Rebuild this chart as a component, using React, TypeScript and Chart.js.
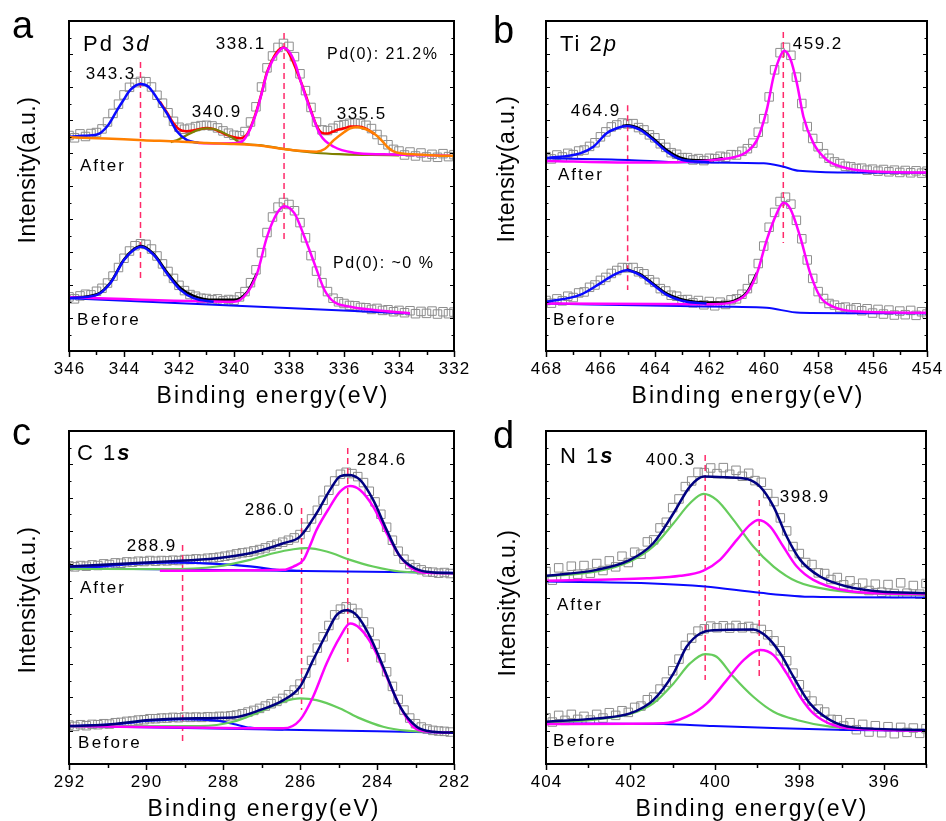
import React, { useEffect, useRef } from 'react';
import { Chart, registerables } from 'chart.js';
Chart.register(...registerables);

type Pt = [number, number];
const FONT = '"Liberation Sans", Arial, Helvetica, sans-serif';

const BLUE = '#0a0aff';
const MAGENTA = '#ff00ff';
const ORANGE = '#ff8000';
const OLIVE = '#7f8000';
const RED = '#ff0000';
const BLACK = '#000000';
const NAVY = '#000080';
const GREEN = '#66cc5c';
const DASH = '#ff2a6a';
const SQUARE = '#8d8d8d';

// ---------------- Panel a : Pd 3d ----------------
const A_TICKS = [346, 344, 342, 340, 338, 336, 334, 332];
const A_RAW_START = 346;
const A_RAW_STEP = 0.2;
const A_AFTER_RAW = [65.3, 64.6, 65.8, 65.0, 65.9, 66.2, 67.3, 69.4, 72.0, 74.8, 77.6, 79.9, 81.3, 81.7, 81.6, 80.0, 77.5, 75.1, 72.2, 69.6, 67.8, 67.2, 67.5, 68.0, 68.3, 68.4, 68.2, 67.6, 66.7, 66.0, 65.4, 65.2, 66.5, 69.4, 74.0, 80.0, 85.8, 89.4, 92.0, 93.2, 92.3, 89.2, 84.0, 78.9, 73.8, 69.4, 67.0, 66.8, 67.5, 68.3, 68.6, 69.0, 69.1, 68.9, 68.4, 67.4, 65.6, 63.9, 62.5, 61.1, 60.6, 59.4, 60.3, 59.1, 60.0, 58.8, 59.6, 58.7, 59.8, 58.9, 59.5];
const A_BEFORE_RAW = [16.4, 15.8, 16.7, 17.2, 17.0, 18.1, 19.0, 20.6, 22.7, 25.3, 28.1, 30.3, 31.9, 32.5, 32.3, 30.9, 28.8, 26.4, 24.1, 22.0, 19.9, 18.3, 17.1, 16.6, 16.0, 15.9, 15.5, 15.8, 15.2, 15.6, 15.4, 16.4, 18.0, 20.7, 24.6, 29.8, 35.9, 40.6, 43.6, 45.0, 44.4, 42.5, 38.9, 34.3, 28.9, 24.2, 20.7, 18.0, 16.0, 14.9, 14.4, 13.8, 13.7, 13.2, 13.1, 12.6, 12.9, 12.3, 12.5, 11.9, 12.3, 11.6, 12.2, 11.3, 12.0, 11.4, 12.1, 11.2, 11.9, 11.3, 11.8];
const A_AFTER_ORANGE: Pt[] = [[346, 64.8], [345, 64.5], [344, 64.2], [343.3, 63.9], [342, 63.5], [341, 63.0], [340, 62.7], [339, 62.2], [338.2, 61.2], [337.5, 60.6], [337.0, 60.4], [336.7, 61.2], [336.37, 63.9], [336.0, 66.3], [335.77, 67.5], [335.5, 67.8], [335.2, 67.2], [334.92, 66.0], [334.65, 64.0], [334.43, 61.9], [334.2, 60.5], [333.95, 59.9], [333.5, 59.6], [333, 59.4], [332.5, 59.2], [332, 59.1]];
const A_AFTER_BLUE: Pt[] = [[346, 64.9], [345.5, 65.2], [344.98, 65.6], [344.6, 68.2], [344.25, 73.0], [344.0, 76.3], [343.77, 79.1], [343.4, 80.9], [343.1, 80.0], [342.92, 78.1], [342.7, 75.3], [342.44, 72.0], [342.07, 66.5], [341.71, 63.9], [341.29, 63.1]];
const A_AFTER_OLIVE: Pt[] = [[342.3, 63.3], [342.0, 64.2], [341.6, 65.9], [341.3, 67.0], [341.0, 67.5], [340.7, 67.2], [340.3, 65.8], [340.0, 64.3], [339.77, 63.1], [339.0, 62.3], [338.0, 61.0], [337.0, 60.0], [336.0, 59.6], [335.0, 59.4], [334.0, 59.3]];
const A_AFTER_MAGENTA: Pt[] = [[341.3, 63.0], [340.5, 62.9], [339.9, 63.0], [339.65, 63.9], [339.4, 67.5], [339.16, 73.0], [338.98, 78.5], [338.8, 84.2], [338.6, 88.0], [338.44, 90.0], [338.2, 91.9], [337.95, 90.2], [337.75, 86.5], [337.59, 82.1], [337.22, 73.0], [336.86, 65.5], [336.37, 61.9], [335.65, 60.1], [334.56, 59.6], [332.13, 59.2]];
const A_AFTER_RED: Pt[] = [[342.7, 75.6], [342.44, 72.3], [342.2, 69.0], [342.0, 67.2], [341.75, 66.6], [341.5, 66.8], [341.25, 67.3], [341.0, 67.6], [340.75, 67.3], [340.5, 66.4], [340.25, 65.4], [340.0, 64.8], [339.75, 64.5], [339.5, 66.0], [339.25, 71.0], [339.0, 78.0], [338.8, 84.5], [338.2, 92.0], [337.6, 82.3], [337.2, 72.8], [337.0, 68.3], [336.8, 66.1], [336.6, 65.9], [336.4, 66.5], [336.2, 67.1], [336.0, 67.5], [335.75, 68.0], [335.5, 68.0], [335.2, 67.4], [334.9, 65.8]];
const A_BEFORE_BASE: Pt[] = [[346, 16.0], [333.6, 11.4]];
const A_BEFORE_BLACK: Pt[] = [[346, 16.1], [344.98, 17.2], [344.5, 20.7], [344.0, 27.7], [343.65, 30.8], [343.38, 31.8], [342.92, 29.4], [342.44, 23.9], [341.95, 19.1], [341.47, 16.7], [340.74, 15.5], [340.0, 15.5], [339.53, 17.8], [339.16, 23.6]];
const A_BEFORE_BLUE: Pt[] = [[346, 16.0], [344.98, 17.0], [344.5, 20.5], [344.0, 27.6], [343.65, 30.6], [343.38, 31.6], [342.92, 29.1], [342.44, 23.5], [341.95, 18.5], [341.47, 16.0], [340.74, 14.9]];
const A_BEFORE_MAGENTA: Pt[] = [[346, 16.3], [340, 14.9], [339.53, 17.5], [339.16, 23.5], [338.8, 34.6], [338.44, 41.7], [338.17, 43.9], [337.8, 41.7], [337.44, 34.6], [337.08, 26.6], [336.71, 18.5], [336.37, 14.9], [335.77, 13.4], [334.92, 12.4], [333.6, 11.4]];
const A_DASH_X = [343.4, 338.18];
const A_DASH_TOP = [87.6, 96.4];
const A_DASH_BOTTOM = [21.5, 32.7];

// ---------------- Panel b : Ti 2p ----------------
const B_TICKS = [468, 466, 464, 462, 460, 458, 456, 454];
const B_RAW_START = 468;
const B_RAW_STEP = 0.2;
const B_AFTER_RAW = [58.9, 58.2, 59.4, 58.8, 59.9, 59.5, 60.6, 60.9, 62.0, 63.1, 64.9, 66.4, 67.9, 68.5, 69.1, 68.8, 68.9, 67.7, 67.0, 65.5, 64.6, 62.8, 61.7, 60.1, 59.6, 58.6, 58.6, 57.9, 58.3, 57.7, 58.4, 58.3, 59.0, 58.7, 59.5, 59.4, 60.5, 61.3, 63.0, 66.3, 70.4, 77.0, 85.2, 90.4, 92.0, 89.6, 83.0, 75.0, 68.0, 64.4, 61.9, 59.8, 58.4, 57.3, 56.8, 56.0, 55.8, 55.3, 55.4, 54.8, 55.1, 54.5, 55.0, 54.3, 54.8, 54.1, 54.7, 54.0, 54.6, 53.9, 54.5];
const B_BEFORE_RAW = [15.3, 14.5, 15.8, 15.2, 16.6, 16.2, 17.6, 17.9, 19.3, 20.0, 21.4, 22.3, 23.5, 24.4, 25.3, 25.2, 25.3, 24.0, 23.4, 21.6, 20.8, 18.9, 18.2, 16.9, 16.6, 15.5, 15.6, 14.6, 15.3, 14.0, 15.0, 13.7, 14.8, 14.1, 15.5, 15.8, 17.2, 18.9, 21.8, 26.5, 31.8, 37.5, 42.0, 45.3, 46.6, 44.5, 39.6, 34.0, 27.6, 22.0, 18.0, 15.9, 14.4, 13.9, 13.1, 13.3, 12.6, 13.1, 12.2, 12.8, 11.5, 12.6, 11.2, 12.4, 10.9, 12.1, 11.0, 12.3, 10.8, 11.9, 11.2];
const B_AFTER_BASE: Pt[] = [[468, 58.4], [465, 57.9], [463, 57.2], [460, 56.9], [459.3, 55.9], [458.7, 54.6], [457, 54.1], [454, 54.0]];
const B_AFTER_BLUE: Pt[] = [[468, 58.4], [466.75, 59.9], [466.26, 61.9], [465.77, 66.0], [465.4, 67.5], [465.03, 68.2], [464.54, 67.0], [464.05, 63.9], [463.56, 60.4], [463.07, 58.1], [462.46, 57.4], [462.0, 57.2]];
const B_AFTER_BLACK: Pt[] = [[465.2, 68.2], [465.03, 68.4], [464.54, 67.3], [464.05, 64.3], [463.56, 60.9], [463.07, 58.6], [462.46, 57.8], [462.0, 57.8], [461.5, 58.4]];
const B_AFTER_MAGENTA: Pt[] = [[468, 57.6], [465, 57.1], [463, 57.3], [461.85, 57.9], [461.11, 58.7], [460.62, 60.4], [460.25, 63.9], [459.89, 73.0], [459.64, 83.1], [459.4, 89.2], [459.25, 91.0], [459.03, 88.7], [458.78, 81.1], [458.54, 71.0], [458.17, 62.9], [457.68, 57.9], [456.94, 55.4], [455.72, 54.3], [454, 54.1]];
const B_BEFORE_BASE: Pt[] = [[468, 14.4], [463.07, 13.6], [461.11, 13.4], [459.89, 13.1], [458.66, 11.6], [454, 11.4]];
const B_BEFORE_BLUE: Pt[] = [[468, 14.9], [466.75, 17.0], [466.01, 20.5], [465.52, 23.0], [465.03, 24.5], [464.54, 23.0], [464.05, 20.0], [463.56, 17.0], [462.83, 14.9], [462.1, 14.4]];
const B_BEFORE_BLACK: Pt[] = [[465.03, 24.7], [464.54, 23.3], [464.05, 20.3], [463.56, 17.4], [462.83, 15.3], [462.1, 14.7], [461.5, 14.7], [461.11, 15.2], [460.62, 17.8], [460.25, 23.7]];
const B_BEFORE_MAGENTA: Pt[] = [[468, 14.4], [461.85, 14.2], [461.11, 14.9], [460.62, 17.5], [460.25, 23.5], [459.89, 33.6], [459.52, 41.7], [459.28, 44.9], [459.03, 43.2], [458.66, 34.6], [458.29, 23.5], [457.93, 16.5], [457.44, 13.4], [456.33, 11.9], [454, 11.6]];
const B_DASH_X = [465.0, 459.28];
const B_DASH_TOP = [74.5, 96.7];
const B_DASH_BOTTOM = [18.5, 32.7];

// ---------------- Panel c : C 1s ----------------
const C_TICKS = [292, 290, 288, 286, 284, 282];
const C_RAW_START = 292;
const C_RAW_STEP = 0.15;
const C_AFTER_RAW = [59.5, 59.2, 59.6, 59.4, 59.8, 59.6, 60.1, 59.9, 60.4, 60.3, 60.7, 60.6, 60.9, 60.8, 61.1, 60.9, 61.1, 61.0, 61.2, 61.1, 61.4, 61.4, 61.6, 61.5, 61.8, 61.9, 62.1, 62.4, 62.7, 63.1, 63.4, 63.6, 64.0, 64.4, 64.9, 65.5, 66.0, 66.6, 67.2, 67.9, 68.9, 71.1, 73.6, 76.2, 79.2, 82.2, 85.0, 87.0, 87.6, 87.2, 86.3, 84.5, 81.9, 78.7, 75.0, 71.1, 67.2, 63.9, 61.5, 59.9, 58.9, 58.3, 57.7, 57.6, 57.3, 57.5, 57.2];
const C_BEFORE_RAW = [11.7, 11.3, 11.8, 11.5, 11.9, 11.8, 12.1, 12.0, 12.4, 12.5, 12.8, 12.9, 13.2, 13.3, 13.6, 13.6, 13.8, 13.8, 14.0, 13.9, 14.1, 14.0, 14.1, 14.0, 14.2, 14.1, 14.3, 14.3, 14.5, 14.7, 15.1, 15.6, 16.1, 16.7, 17.4, 18.1, 18.8, 19.7, 20.8, 22.2, 24.0, 27.3, 31.1, 34.8, 38.2, 41.6, 44.8, 46.5, 47.2, 46.7, 45.3, 42.7, 39.6, 36.0, 31.9, 27.7, 23.3, 19.4, 16.2, 13.8, 12.1, 11.1, 10.5, 10.1, 9.9, 9.8, 9.6];
const C_AFTER_BASE: Pt[] = [[292, 58.8], [282, 57.4]];
const C_AFTER_BLUE: Pt[] = [[292, 58.8], [291.19, 59.3], [290.33, 60.1], [289.46, 60.5], [289.0, 60.5], [288.6, 60.3], [287.73, 59.8], [287.12, 59.1], [286.6, 58.3], [286.0, 58.0]];
const C_AFTER_GREEN: Pt[] = [[292, 58.6], [289.46, 58.5], [288.16, 59.3], [287.3, 61.3], [286.69, 63.3], [286.17, 64.5], [285.83, 64.8], [285.31, 63.8], [284.7, 61.3], [284.1, 59.3], [283.4, 57.8], [282, 57.3]];
const C_AFTER_MAGENTA: Pt[] = [[289.64, 58.0], [286.43, 58.3], [286.17, 59.3], [285.91, 61.3], [285.75, 65.3], [285.57, 70.3], [285.22, 77.3], [284.96, 81.8], [284.7, 83.5], [284.44, 82.3], [284.1, 77.3], [283.75, 69.3], [283.4, 62.3], [283.06, 58.5], [282.71, 57.4], [282, 57.3]];
const C_AFTER_NAVY: Pt[] = [[292, 59.3], [290.5, 60.2], [289.46, 60.8], [288.16, 61.8], [287.3, 63.3], [286.43, 66.3], [286.0, 68.3], [285.57, 75.3], [285.22, 82.3], [284.96, 86.4], [284.74, 86.8], [284.44, 85.3], [284.1, 79.3], [283.75, 70.3], [283.4, 62.3], [282.97, 58.5], [282.54, 57.5], [282, 57.3]];
const C_BEFORE_BASE: Pt[] = [[292, 11.4], [286, 10.2], [282, 9.4]];
const C_BEFORE_BLUE: Pt[] = [[292, 11.4], [290.76, 12.0], [289.9, 13.0], [289.03, 13.5], [288.16, 13.0], [287.73, 12.0], [287.3, 10.9], [286.43, 10.4]];
const C_BEFORE_GREEN: Pt[] = [[292, 11.3], [288.6, 11.4], [287.73, 12.7], [287.04, 15.7], [286.43, 18.7], [286.0, 19.7], [285.57, 19.2], [284.96, 16.7], [284.44, 13.7], [283.84, 11.2], [283.23, 10.0], [282, 9.4]];
const C_BEFORE_MAGENTA: Pt[] = [[292, 11.4], [286.43, 10.7], [286.0, 13.2], [285.66, 20.2], [285.31, 30.2], [284.96, 38.2], [284.7, 42.2], [284.44, 40.7], [284.1, 35.2], [283.75, 26.2], [283.4, 17.2], [283.06, 11.2], [282.63, 9.7], [282, 9.4]];
const C_BEFORE_NAVY: Pt[] = [[292, 11.4], [291, 11.8], [289.9, 13.2], [289.03, 13.7], [287.73, 14.0], [287.04, 16.2], [286.43, 19.2], [286.0, 23.2], [285.66, 31.2], [285.31, 39.2], [285.05, 44.7], [284.79, 46.2], [284.53, 44.7], [284.18, 38.2], [283.84, 29.2], [283.4, 17.2], [282.97, 11.2], [282.54, 9.7], [282, 9.4]];
const C_DASH_X = [289.05, 285.96, 284.76];
const C_DASH_TOP = [65.8, 76.9, 94.9];
const C_DASH_BOTTOM = [6.3, 16.2, 30.6];

// ---------------- Panel d : N 1s ----------------
const D_TICKS = [404, 402, 400, 398, 396];
const D_RAW_START = 404;
const D_RAW_STEP = 0.15;
const D_AFTER_RAW = [57.8, 55.2, 58.9, 56.3, 59.4, 57.0, 59.6, 57.3, 60.2, 58.1, 61.0, 59.2, 62.4, 60.5, 63.6, 63.0, 66.7, 67.3, 70.9, 72.6, 77.0, 79.6, 83.3, 85.0, 87.6, 87.5, 88.9, 87.2, 89.0, 87.0, 88.2, 86.4, 87.3, 85.1, 84.6, 81.2, 78.8, 73.9, 70.0, 65.3, 63.2, 60.5, 59.9, 57.4, 57.2, 55.4, 56.0, 53.8, 55.0, 52.9, 54.3, 52.1, 54.0, 51.6, 53.9, 51.2, 54.4, 51.3, 53.6, 51.0, 54.2];
const D_BEFORE_RAW = [13.9, 12.6, 14.6, 13.1, 14.9, 13.4, 14.3, 13.2, 14.9, 13.8, 15.4, 14.6, 16.0, 15.5, 17.0, 17.4, 19.3, 20.1, 22.5, 24.6, 28.0, 31.5, 35.6, 37.8, 39.9, 40.6, 41.4, 40.9, 41.5, 40.8, 41.6, 40.9, 41.3, 40.7, 40.4, 38.8, 37.0, 34.0, 31.0, 27.3, 23.8, 20.6, 18.9, 16.5, 15.6, 13.4, 13.3, 11.4, 12.4, 10.3, 11.9, 9.6, 11.5, 9.4, 11.2, 9.1, 11.0, 9.5, 10.8, 9.2, 10.6];
const D_AFTER_BASE: Pt[] = [[404, 54.8], [401.61, 54.3], [400.23, 53.3], [398.93, 51.4], [397.67, 50.2], [395, 50.0]];
const D_AFTER_GREEN: Pt[] = [[404, 56.3], [402.8, 57.8], [402.01, 60.8], [401.46, 65.3], [400.98, 72.3], [400.59, 78.3], [400.27, 81.1], [399.96, 79.3], [399.56, 73.3], [399.09, 65.3], [398.61, 59.3], [398.06, 54.8], [397.27, 52.3], [396.09, 51.1], [395, 50.8]];
const D_AFTER_MAGENTA: Pt[] = [[404, 55.0], [401.61, 55.8], [400.82, 56.5], [400.27, 58.1], [399.88, 61.3], [399.48, 67.3], [399.17, 71.8], [398.97, 73.3], [398.69, 71.3], [398.38, 65.3], [398.06, 59.3], [397.67, 55.3], [396.87, 52.0], [395.69, 51.1], [395, 51.0]];
const D_AFTER_NAVY: Pt[] = [[404, 56.5], [402.8, 58.3], [402.01, 61.3], [401.46, 66.3], [400.98, 75.3], [400.59, 83.3], [400.26, 86.3], [399.72, 86.1], [399.24, 85.6], [398.93, 83.3], [398.61, 77.3], [398.3, 68.3], [397.98, 61.3], [397.51, 56.3], [396.87, 53.3], [396.09, 51.8], [395, 51.3]];
const D_BEFORE_BASE: Pt[] = [[404, 12.2], [401.22, 12.0], [400.04, 11.4], [398.45, 10.7], [396.87, 10.2], [395, 10.0]];
const D_BEFORE_GREEN: Pt[] = [[404, 12.4], [402.8, 13.4], [402.01, 15.0], [401.46, 18.2], [400.98, 24.2], [400.59, 30.2], [400.23, 33.0], [399.96, 32.2], [399.56, 26.2], [399.09, 20.2], [398.61, 15.7], [398.06, 13.2], [397.27, 11.2], [396.09, 10.4], [395, 10.2]];
const D_BEFORE_MAGENTA: Pt[] = [[404, 12.0], [401.22, 12.2], [400.67, 14.2], [400.19, 18.2], [399.72, 25.2], [399.32, 31.2], [398.93, 34.2], [398.61, 32.7], [398.3, 27.2], [397.98, 20.2], [397.67, 15.2], [397.2, 11.7], [396.48, 10.4], [395, 10.0]];
const D_BEFORE_NAVY: Pt[] = [[404, 12.7], [402.8, 13.7], [402.01, 15.2], [401.46, 19.2], [400.98, 27.2], [400.67, 35.2], [400.35, 39.2], [400.04, 40.2], [399.09, 40.4], [398.77, 38.2], [398.45, 33.2], [398.14, 26.2], [397.75, 18.2], [397.27, 13.2], [396.72, 11.0], [395, 10.2]];
const D_DASH_X = [400.23, 398.95];
const D_DASH_TOP = [92.8, 79.3];
const D_DASH_BOTTOM = [25.2, 25.2];

// ---------------- layout / text ----------------
type Part = { t: string; it?: boolean; b?: boolean };
type Label = { parts: Part[]; x: number; y: number; size: number; sp: number; align: 'left' | 'center' };
const L = (t: string, x: number, y: number, size = 17, sp = 1.5, align: 'left' | 'center' = 'center'): Label => ({ parts: [{ t }], x, y, size, sp, align });

type LineSpec = { pts: Pt[]; color: string; w: number };
type Panel = {
  left: number; top: number; w: number; h: number;
  pad: { left: number; top: number; right: number; bottom: number };
  xMin: number; xMax: number; ticks: number[];
  letter: string; letterX: number; letterY: number;
  yTitleX: number; yTitleY: number; xTitleX: number; xTitleY: number;
  raws: { start: number; step: number; vals: number[] }[];
  lines: LineSpec[];
  dashX: number[]; dashTop: number[]; dashBottom: number[];
  labels: Label[];
};

const PANELS: Panel[] = [
  {
    left: 0, top: 0, w: 473, h: 410,
    pad: { left: 69, top: 21, right: 19, bottom: 59 },
    xMin: 332, xMax: 346, ticks: A_TICKS,
    letter: 'a', letterX: 12, letterY: 38,
    yTitleX: 35, yTitleY: 170, xTitleX: 272, xTitleY: 403,
    raws: [
      { start: A_RAW_START, step: A_RAW_STEP, vals: A_AFTER_RAW },
      { start: A_RAW_START, step: A_RAW_STEP, vals: A_BEFORE_RAW },
    ],
    lines: [
      { pts: A_AFTER_ORANGE, color: ORANGE, w: 2.5 },
      { pts: A_AFTER_MAGENTA, color: MAGENTA, w: 2.5 },
      { pts: A_AFTER_BLUE, color: BLUE, w: 2.5 },
      { pts: A_AFTER_OLIVE, color: OLIVE, w: 2.2 },
      { pts: A_AFTER_RED, color: RED, w: 2.5 },
      { pts: A_BEFORE_BLUE, color: BLUE, w: 2.5 },
      { pts: A_BEFORE_MAGENTA, color: MAGENTA, w: 2.5 },
      { pts: A_BEFORE_BASE, color: BLUE, w: 2 },
      { pts: A_BEFORE_BLACK, color: BLACK, w: 2.5 },
    ],
    dashX: A_DASH_X, dashTop: A_DASH_TOP, dashBottom: A_DASH_BOTTOM,
    labels: [
      { parts: [{ t: 'Pd 3' }, { t: 'd', it: true }], x: 83, y: 45, size: 22, sp: 2, align: 'left' },
      L('343.3', 110, 74),
      L('340.9', 216, 112.5),
      L('338.1', 240, 44),
      L('Pd(0): 21.2%', 327, 55, 16, 1.5, 'left'),
      L('335.5', 361, 114),
      L('After', 80, 166.5, 17, 2, 'left'),
      L('Pd(0): ~0 %', 333, 263.5, 16, 1.5, 'left'),
      L('Before', 77, 320, 17, 2.3, 'left'),
    ],
  },
  {
    left: 473, top: 0, w: 473, h: 410,
    pad: { left: 73, top: 21, right: 19, bottom: 59 },
    xMin: 454, xMax: 468, ticks: B_TICKS,
    letter: 'b', letterX: 493, letterY: 43,
    yTitleX: 514, yTitleY: 169, xTitleX: 747, xTitleY: 403,
    raws: [
      { start: B_RAW_START, step: B_RAW_STEP, vals: B_AFTER_RAW },
      { start: B_RAW_START, step: B_RAW_STEP, vals: B_BEFORE_RAW },
    ],
    lines: [
      { pts: B_AFTER_BLUE, color: BLUE, w: 2.5 },
      { pts: B_AFTER_MAGENTA, color: MAGENTA, w: 2.5 },
      { pts: B_AFTER_BLACK, color: BLACK, w: 2.5 },
      { pts: B_AFTER_BASE, color: BLUE, w: 2 },
      { pts: B_BEFORE_BLUE, color: BLUE, w: 2.5 },
      { pts: B_BEFORE_MAGENTA, color: MAGENTA, w: 2.5 },
      { pts: B_BEFORE_BLACK, color: BLACK, w: 2.5 },
      { pts: B_BEFORE_BASE, color: BLUE, w: 2 },
    ],
    dashX: B_DASH_X, dashTop: B_DASH_TOP, dashBottom: B_DASH_BOTTOM,
    labels: [
      { parts: [{ t: 'Ti 2' }, { t: 'p', it: true }], x: 560, y: 45, size: 22, sp: 2, align: 'left' },
      L('459.2', 817, 44),
      L('464.9', 595, 111),
      L('After', 558, 175, 17, 2, 'left'),
      L('Before', 553, 320, 17, 2.3, 'left'),
    ],
  },
  {
    left: 0, top: 410, w: 473, h: 411,
    pad: { left: 69, top: 21, right: 19, bottom: 57 },
    xMin: 282, xMax: 292, ticks: C_TICKS,
    letter: 'c', letterX: 12, letterY: 445,
    yTitleX: 35, yTitleY: 600, xTitleX: 263, xTitleY: 816,
    raws: [
      { start: C_RAW_START, step: C_RAW_STEP, vals: C_AFTER_RAW },
      { start: C_RAW_START, step: C_RAW_STEP, vals: C_BEFORE_RAW },
    ],
    lines: [
      { pts: C_AFTER_NAVY, color: NAVY, w: 2.5 },
      { pts: C_AFTER_MAGENTA, color: MAGENTA, w: 2.5 },
      { pts: C_AFTER_GREEN, color: GREEN, w: 2.2 },
      { pts: C_AFTER_BLUE, color: BLUE, w: 2.2 },
      { pts: C_AFTER_BASE, color: BLUE, w: 2 },
      { pts: C_BEFORE_NAVY, color: NAVY, w: 2.5 },
      { pts: C_BEFORE_MAGENTA, color: MAGENTA, w: 2.5 },
      { pts: C_BEFORE_GREEN, color: GREEN, w: 2.2 },
      { pts: C_BEFORE_BLUE, color: BLUE, w: 2.2 },
      { pts: C_BEFORE_BASE, color: BLUE, w: 2 },
    ],
    dashX: C_DASH_X, dashTop: C_DASH_TOP, dashBottom: C_DASH_BOTTOM,
    labels: [
      { parts: [{ t: 'C 1' }, { t: 's', it: true, b: true }], x: 77, y: 454, size: 22, sp: 2, align: 'left' },
      L('284.6', 381, 460),
      L('286.0', 269, 510),
      L('288.9', 151, 546),
      L('After', 80, 588.5, 17, 2, 'left'),
      L('Before', 78, 743, 17, 2.3, 'left'),
    ],
  },
  {
    left: 473, top: 410, w: 473, h: 411,
    pad: { left: 73, top: 21, right: 20, bottom: 57 },
    xMin: 395, xMax: 404, ticks: D_TICKS,
    letter: 'd', letterX: 493, letterY: 448,
    yTitleX: 515, yTitleY: 603, xTitleX: 751, xTitleY: 816,
    raws: [
      { start: D_RAW_START, step: D_RAW_STEP, vals: D_AFTER_RAW },
      { start: D_RAW_START, step: D_RAW_STEP, vals: D_BEFORE_RAW },
    ],
    lines: [
      { pts: D_AFTER_NAVY, color: NAVY, w: 2.5 },
      { pts: D_AFTER_MAGENTA, color: MAGENTA, w: 2.5 },
      { pts: D_AFTER_GREEN, color: GREEN, w: 2.2 },
      { pts: D_AFTER_BASE, color: BLUE, w: 2 },
      { pts: D_BEFORE_NAVY, color: NAVY, w: 2.5 },
      { pts: D_BEFORE_MAGENTA, color: MAGENTA, w: 2.5 },
      { pts: D_BEFORE_GREEN, color: GREEN, w: 2.2 },
      { pts: D_BEFORE_BASE, color: BLUE, w: 2 },
    ],
    dashX: D_DASH_X, dashTop: D_DASH_TOP, dashBottom: D_DASH_BOTTOM,
    labels: [
      { parts: [{ t: 'N 1' }, { t: 's', it: true, b: true }], x: 560, y: 457, size: 22, sp: 2, align: 'left' },
      L('400.3', 670, 460),
      L('398.9', 804, 497),
      L('After', 557, 605, 17, 2, 'left'),
      L('Before', 553, 741.5, 17, 2.3, 'left'),
    ],
  },
];

function fontOf(size: number, it?: boolean, b?: boolean) {
  return `${it ? 'italic ' : ''}${b ? 'bold ' : ''}${size}px ${FONT}`;
}

function drawLabel(ctx: any, lb: Label, ox: number, oy: number) {
  ctx.letterSpacing = lb.sp + 'px';
  ctx.textBaseline = 'middle';
  ctx.textAlign = 'left';
  ctx.fillStyle = '#000';
  let total = 0;
  for (const p of lb.parts) {
    ctx.font = fontOf(lb.size, p.it, p.b);
    total += ctx.measureText(p.t).width;
  }
  let x = lb.x - ox;
  if (lb.align === 'center') x -= (total - lb.sp) / 2;
  for (const p of lb.parts) {
    ctx.font = fontOf(lb.size, p.it, p.b);
    ctx.fillText(p.t, x, lb.y - oy);
    x += ctx.measureText(p.t).width;
  }
}

function makeDecor(p: Panel) {
  return {
    id: 'decor',
    afterDraw(chart: any) {
      const ctx = chart.ctx;
      const ca = chart.chartArea;
      const xs = chart.scales.x;
      const ys = chart.scales.y;
      ctx.save();
      // frame
      ctx.strokeStyle = '#000';
      ctx.lineWidth = 2;
      ctx.strokeRect(ca.left, ca.top, ca.right - ca.left, ca.bottom - ca.top);
      // x ticks
      ctx.lineWidth = 1.5;
      for (let v = Math.ceil(p.xMin); v <= p.xMax; v++) {
        const px = Math.round(xs.getPixelForValue(v)) + 0.5;
        const major = p.ticks.indexOf(v) >= 0;
        ctx.beginPath();
        ctx.moveTo(px, ca.bottom);
        ctx.lineTo(px, ca.bottom + (major ? 6 : 4));
        ctx.stroke();
      }
      // y ticks (inward, both sides)
      ctx.lineWidth = 1;
      for (let v = 5; v < 100; v += 5) {
        const py = Math.round(ys.getPixelForValue(v)) + 0.5;
        const len = v % 10 === 0 ? 4 : 2.5;
        ctx.beginPath();
        ctx.moveTo(ca.left, py);
        ctx.lineTo(ca.left + len, py);
        ctx.moveTo(ca.right, py);
        ctx.lineTo(ca.right - len, py);
        ctx.stroke();
      }
      // tick labels
      ctx.fillStyle = '#000';
      ctx.font = fontOf(17);
      ctx.letterSpacing = '1px';
      ctx.textAlign = 'center';
      ctx.textBaseline = 'middle';
      for (const t of p.ticks) {
        const px = xs.getPixelForValue(t);
        ctx.fillText(String(t), px + 0.5, ca.bottom + 18.5);
      }
      // x title
      ctx.font = fontOf(23);
      ctx.letterSpacing = '2px';
      ctx.textAlign = 'center';
      ctx.textBaseline = 'alphabetic';
      ctx.fillText('Binding energy(eV)', p.xTitleX - p.left + 1, p.xTitleY - p.top);
      // y title
      ctx.save();
      ctx.translate(p.yTitleX - p.left, p.yTitleY - p.top);
      ctx.rotate(-Math.PI / 2);
      ctx.font = fontOf(23);
      ctx.letterSpacing = '0.5px';
      ctx.textAlign = 'center';
      ctx.textBaseline = 'alphabetic';
      ctx.fillText('Intensity(a.u.)', 0, 0);
      ctx.restore();
      // panel letter
      ctx.font = fontOf(38);
      ctx.letterSpacing = '0px';
      ctx.textAlign = 'left';
      ctx.textBaseline = 'alphabetic';
      ctx.fillText(p.letter, p.letterX - p.left, p.letterY - p.top);
      // annotations
      for (const lb of p.labels) drawLabel(ctx, lb, p.left, p.top);
      ctx.restore();
    },
  };
}

function buildConfig(p: Panel): any {
  const datasets: any[] = [];
  p.lines.forEach((ls, i) => {
    datasets.push({
      type: 'line',
      data: ls.pts.map(([x, y]) => ({ x, y })),
      borderColor: ls.color,
      borderWidth: ls.w,
      pointRadius: 0,
      fill: false,
      cubicInterpolationMode: 'monotone',
      order: i + 1,
    });
  });
  p.dashX.forEach((x, i) => {
    datasets.push({
      type: 'line',
      data: [{ x, y: p.dashTop[i] }, { x, y: p.dashBottom[i] }],
      borderColor: DASH,
      borderWidth: 1.5,
      borderDash: [6, 4],
      pointRadius: 0,
      fill: false,
      order: 50,
    });
  });
  p.raws.forEach((r) => {
    datasets.push({
      type: 'scatter',
      data: r.vals.map((v, i) => ({ x: Math.round((r.start - i * r.step) * 1000) / 1000, y: v })),
      showLine: false,
      pointStyle: 'rect',
      pointRadius: 6,
      borderColor: SQUARE,
      borderWidth: 1,
      backgroundColor: 'rgba(0,0,0,0)',
      order: 100,
    });
  });
  return {
    type: 'line',
    data: { datasets },
    options: {
      responsive: false,
      animation: false,
      events: [],
      layout: { padding: p.pad },
      plugins: { legend: { display: false }, tooltip: { enabled: false } },
      scales: {
        x: { type: 'linear', reverse: true, min: p.xMin, max: p.xMax, display: false },
        y: { type: 'linear', min: 0, max: 100, display: false },
      },
    },
    plugins: [makeDecor(p)],
  };
}

function PanelChart({ p }: { p: Panel }) {
  const ref = useRef<HTMLCanvasElement>(null);
  useEffect(() => {
    const chart = new Chart(ref.current as HTMLCanvasElement, buildConfig(p));
    return () => chart.destroy();
  }, [p]);
  return (
    <canvas
      ref={ref}
      width={p.w}
      height={p.h}
      style={{ position: 'absolute', left: p.left, top: p.top, width: p.w, height: p.h }}
    />
  );
}

export default function App() {
  return (
    <div style={{ position: 'absolute', left: 0, top: 0, width: 946, height: 821, background: '#fff' }}>
      {PANELS.map((p, i) => (
        <PanelChart key={i} p={p} />
      ))}
    </div>
  );
}
